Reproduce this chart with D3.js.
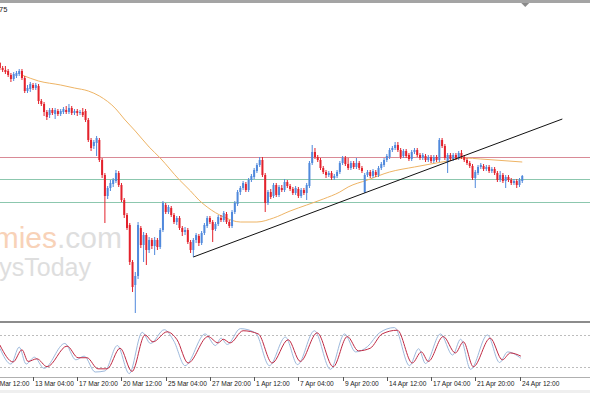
<!DOCTYPE html>
<html><head><meta charset="utf-8">
<script src="https://cdn.jsdelivr.net/npm/d3@7"></script>
<style>html,body{margin:0;padding:0;background:#fff;overflow:hidden}</style>
</head><body><svg id="c" width="590" height="393"></svg>
<script>
// ---------- DATA (H4 candles, price in chart points) ----------
const firstBar = 4;           // bar index of the first visible candle
const barsPerLabel = 16;
const timeLabels = ["11 Mar 12:00","13 Mar 04:00","17 Mar 20:00","20 Mar 12:00","25 Mar 04:00","27 Mar 20:00","1 Apr 12:00","7 Apr 04:00","9 Apr 20:00","14 Apr 12:00","17 Apr 04:00","21 Apr 20:00","24 Apr 12:00"];

const open = [
267,262,260,259,255,251,254,256,259,252,
239,241,245,242,244,229,226,218,215,220,
216,219,216,218,220,218,222,217,219,217,
218,219,210,190,184,187,190,170,155,134,
142,146,149,157,145,130,115,105,68,45,
54,102,85,95,80,90,84,90,83,100,
125,118,122,115,108,112,102,98,100,88,
80,90,94,87,97,104,112,108,101,106,
112,110,116,108,104,118,126,138,142,146,
140,150,153,159,165,170,155,127,138,134,
145,135,142,140,148,144,141,137,141,134,
140,137,144,167,178,173,170,162,158,155,
157,152,154,158,167,172,166,162,167,163,
167,162,138,155,158,154,158,155,162,165,
170,173,180,182,185,180,174,179,175,171,
178,180,175,172,174,170,173,169,173,170,
190,184,168,175,171,175,172,177,173,170,
167,164,152,157,163,164,161,163,159,161,
157,150,155,149,153,150,147,149,145,149];
const high = [
268,264,264,261,257,258,259,261,261,254,
245,248,247,247,246,231,228,220,222,222,
222,221,221,223,224,226,224,221,221,220,
222,221,212,192,190,194,192,172,157,144,
150,152,160,159,147,132,117,107,70,58,
108,104,98,97,93,92,93,92,102,129,
127,125,124,117,114,114,104,103,102,90,
92,97,96,99,107,114,114,110,108,115,
115,119,118,110,120,129,140,144,149,148,
152,156,162,167,173,173,157,140,141,147,
147,145,145,151,150,146,143,144,143,142,
142,147,169,185,182,175,172,164,160,159,
159,156,160,169,174,174,172,169,169,172,
169,164,157,160,160,161,160,164,168,172,
176,182,184,188,188,182,181,181,177,180,
182,182,177,177,176,175,175,175,175,192,
192,186,177,177,177,177,179,180,175,172,
169,166,160,165,167,166,165,165,163,163,
159,159,157,155,155,152,151,151,152,155];
const low = [
260,258,256,253,248,249,252,254,250,237,
237,238,240,240,226,224,214,210,212,215,
211,214,214,216,216,216,215,215,214,215,
213,208,188,179,181,174,168,152,107,131,
139,143,147,143,128,112,100,65,38,17,
51,82,68,65,77,81,75,80,81,98,
116,116,113,106,105,100,94,95,86,77,
73,87,84,85,95,102,106,88,99,104,
108,108,106,102,102,116,124,135,140,138,
138,148,151,157,163,153,118,125,131,132,
133,133,138,138,142,139,135,135,132,132,
135,130,142,165,171,168,160,156,152,153,
150,150,152,156,165,164,160,160,161,161,
160,157,137,153,152,152,153,153,160,163,
168,171,178,180,178,171,172,172,169,169,
176,173,170,170,168,168,167,167,168,168,
182,170,157,169,169,170,170,171,168,165,
162,150,142,155,161,159,159,157,157,155,
148,148,147,142,148,145,145,142,143,147];
const close = [
262,260,258,255,251,256,257,259,252,239,
242,246,242,245,229,226,218,213,220,217,
220,216,219,221,218,222,217,219,217,218,
215,210,190,182,188,192,170,155,134,142,
147,150,157,145,130,115,102,68,43,54,
105,85,95,80,90,84,90,83,100,127,
118,123,115,108,112,102,98,100,88,80,
90,95,87,97,105,112,108,100,106,113,
110,117,108,104,118,127,138,142,147,140,
150,154,160,165,170,155,127,138,133,145,
135,143,140,148,144,141,137,142,134,140,
137,145,167,178,173,170,162,158,155,157,
152,154,158,167,172,166,162,167,163,167,
162,159,155,158,154,159,155,162,166,170,
174,180,182,185,180,173,179,174,171,178,
180,175,172,175,170,173,169,173,170,190,
184,172,175,171,175,172,177,173,170,167,
164,152,158,163,165,161,163,159,161,157,
150,155,149,153,150,147,149,145,150,154];

// moving average read at sampled bars
const maBars = [12,18,26,31,36,40,46,49,53,58,62,69,73,76,79,85,91,97,103,109,115,121,127,130,137,145,154,166,172,178,193];
const maVals = [255,249,245,242,239,234,221,211,199,183,172,150,139,130,123,113,108,108,112,119,125,131,138,143,150,158,163,169,172,171,168];

// horizontal levels and trend line
const levelVals = [173, 151, 128.5];
const trendBars = [74, 207.5];
const trendVals = [73, 211];

// stochastic oscillator (turning points)
const stochLevels = [80, 20];
const sigBars = [4,8.8,12,14.2,17.4,21.1,28.3,32.3,35.5,39.5,42.8,47.5,51.8,56.5,59.4,64.5,68.1,72.1,79.3,83,84.8,87.3,92,97.5,102.5,108.3,112.7,118.8,124.6,129.7,133.7,138,142.3,147.8,153.2,156.5,159,164.4,168.8,171.7,175.3,181.4,185.8,188.7,192.5];
const sigVals = [61,29,52,30,35,20,59,37,37,16,16,55,11,80,67,86,71,27,77,65,72,65,88,82,27,71,30,84,20,77,50,55,82,89,27,48,30,77,46,67,20,74,33,46,40];
const kBars = [4,8,11,13.5,16.5,20,27.5,31.5,34.5,38.5,42,46.5,50.8,55.5,58.5,63.5,67,71,78.3,82,84,86.3,91,96.5,101.5,107.3,111.7,117.8,123.6,128.7,132.7,137,141.3,146.8,152.2,155.5,158,163.4,167.8,170.7,174.3,180.4,184.8,187.7,192.5];
const kVals = [55,25,57,25,38,17,64,33,40,10,12,60,7,85,64,90,68,22,82,60,74,62,92,84,22,76,24,88,15,82,48,58,84,94,22,54,26,82,42,72,15,80,28,48,36];

// ---------- DRAW ----------
const W = 590, H = 393;
const svg = d3.select("#c");
const x = d3.scaleLinear().domain([0, 192]).range([-11.2, 519.5]);
const y = d3.scaleLinear().domain([9, 327]).range([321, 3]);
const ys = d3.scaleLinear().domain([0, 100]).range([377.3, 324.4]);

const defs = svg.append("defs");
defs.append("clipPath").attr("id","cm").append("rect").attr("x",0).attr("y",3).attr("width",W).attr("height",318);
defs.append("clipPath").attr("id","cs").append("rect").attr("x",0).attr("y",323).attr("width",W).attr("height",54);

svg.append("rect").attr("width",W).attr("height",H).attr("fill","#fff");

const main = svg.append("g").attr("clip-path","url(#cm)");

// watermark
const wm1 = main.append("text").attr("x",122).attr("y",248).attr("text-anchor","end")
  .attr("font-family","'Liberation Sans', Arial, sans-serif").attr("font-size",30);
wm1.append("tspan").attr("fill","#f8d2b8").text("economies");
wm1.append("tspan").attr("fill","#dedede").text(".com");
main.append("text").attr("x",91).attr("y",276).attr("text-anchor","end")
  .attr("font-family","'Liberation Sans', Arial, sans-serif").attr("font-size",25)
  .attr("fill","#dedede").text("ysToday");

// horizontal levels
const levelColors = ["#d98a96","#8cc7ae","#8cc7ae"];
main.selectAll("line.lvl").data(levelVals).join("line").attr("class","lvl")
  .attr("x1",0).attr("x2",W).attr("y1",d=>Math.round(y(d))+0.5).attr("y2",d=>Math.round(y(d))+0.5)
  .attr("stroke",(d,i)=>levelColors[i]).attr("stroke-width",1);

// moving average
main.append("path").datum(maBars.map((b,i)=>[b,maVals[i]]))
  .attr("fill","none").attr("stroke","#eeb465").attr("stroke-width",1)
  .attr("d", d3.line().x(d=>x(d[0])).y(d=>y(d[1])).curve(d3.curveMonotoneX));

// candles
const bars = open.map((o,i)=>({i:firstBar+i,o,h:high[i],l:low[i],c:close[i]}));
const up = "#5089dc", dn = "#e3222c";
const cg = main.append("g");
cg.selectAll("rect.w").data(bars).join("rect").attr("class","w")
  .attr("x",d=>x(d.i)-0.5).attr("width",1)
  .attr("y",d=>y(d.h)).attr("height",d=>Math.max(1,y(d.l)-y(d.h)))
  .attr("fill",d=>d.c>=d.o?up:dn);
cg.selectAll("rect.b").data(bars).join("rect").attr("class","b")
  .attr("x",d=>x(d.i)-1).attr("width",2)
  .attr("y",d=>y(Math.max(d.o,d.c))).attr("height",d=>Math.max(1,Math.abs(y(d.o)-y(d.c))))
  .attr("fill",d=>d.c>=d.o?up:dn);

// trend line
main.append("line")
  .attr("x1",x(trendBars[0])).attr("y1",y(trendVals[0]))
  .attr("x2",x(trendBars[1])).attr("y2",y(trendVals[1]))
  .attr("stroke","#111").attr("stroke-width",1);

// top frame and shift marker
svg.append("rect").attr("x",0).attr("y",0).attr("width",W).attr("height",3).attr("fill","#a4a4a4");
svg.append("path").attr("d",`M${x(193)-1},3 L${x(193)+7},3 L${x(193)+3},7 Z`).attr("fill","#8a8a8a");
svg.append("text").attr("x",-1).attr("y",12).attr("font-family","'Liberation Sans', Arial, sans-serif")
  .attr("font-size",7.5).attr("fill","#222").text("75");

// panel separator
svg.append("rect").attr("x",0).attr("y",321).attr("width",W).attr("height",2).attr("fill","#8c8c8c");

// stochastic sub-panel
const sub = svg.append("g").attr("clip-path","url(#cs)");
sub.selectAll("line.sl").data(stochLevels).join("line").attr("class","sl")
  .attr("x1",0).attr("x2",W).attr("y1",d=>Math.round(ys(d))+0.5).attr("y2",d=>Math.round(ys(d))+0.5)
  .attr("stroke","#bdbdbd").attr("stroke-dasharray","2,2");
const sline = d3.line().x(d=>x(d[0])).y(d=>ys(d[1])).curve(d3.curveMonotoneX);
sub.append("path").datum(kBars.map((b,i)=>[b,kVals[i]]))
  .attr("fill","none").attr("stroke","#9db9dc").attr("stroke-width",1).attr("d",sline);
sub.append("path").datum(sigBars.map((b,i)=>[b,sigVals[i]]))
  .attr("fill","none").attr("stroke","#c02a44").attr("stroke-width",1).attr("d",sline);

// time axis
svg.append("line").attr("x1",0).attr("x2",W).attr("y1",377.5).attr("y2",377.5).attr("stroke","#b0b0b0");
const tg = svg.append("g");
const tk = tg.selectAll("g").data(timeLabels).join("g")
  .attr("transform",(d,i)=>`translate(${Math.round(x(i*barsPerLabel))+0.5},0)`);
tk.append("line").attr("y1",377).attr("y2",381).attr("stroke","#555");
tk.append("text").attr("x",1.5).attr("y",386).attr("font-family","'Liberation Sans', Arial, sans-serif")
  .attr("font-size",6.6).attr("fill","#222").text(d=>d);
svg.append("rect").attr("x",0).attr("y",390).attr("width",W).attr("height",3).attr("fill","#efefef");
</script>
</body></html>
